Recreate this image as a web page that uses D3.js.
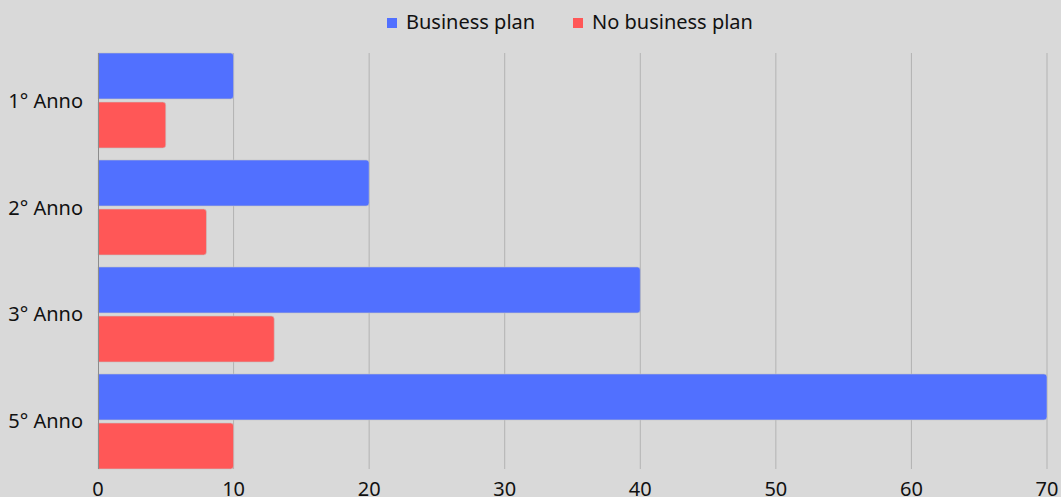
<!DOCTYPE html>
<html>
<head>
<meta charset="utf-8">
<script src="https://cdn.jsdelivr.net/npm/d3@7"></script>
<style>
  html, body { margin: 0; padding: 0; background: #d9d9d9; }
  svg { display: block; font-family: "Noto Sans", "Open Sans", sans-serif; }
</style>
</head>
<body>
<svg id="svg" width="1061" height="497"></svg>
<script>
// dati del grafico
const categories = ["1° Anno", "2° Anno", "3° Anno", "5° Anno"];
const seriesNames = ["Business plan", "No business plan"];
const businessPlan = [10, 20, 40, 70];
const noBusinessPlan = [5, 8, 13, 10];
const xTicks = [0, 10, 20, 30, 40, 50, 60, 70];
const colors = ["#5170ff", "#ff5757"];

const svg = d3.select("#svg");
const width = 1061, height = 497;
const margin = { top: 53, right: 14, bottom: 28, left: 98 };
const fontSize = 20;

svg.append("rect").attr("width", width).attr("height", height).attr("fill", "#d9d9d9");

const x = d3.scaleLinear().domain([0, 70]).range([margin.left, width - margin.right]);
const y = d3.scaleBand().domain(categories).range([margin.top, height - margin.bottom])
  .paddingInner(0.112).paddingOuter(0);
const ySub = d3.scaleBand().domain(seriesNames).range([0, y.bandwidth()]).paddingInner(0.063);

const rows = categories.map((c, i) => ({ cat: c, values: [businessPlan[i], noBusinessPlan[i]] }));

// griglia verticale
svg.append("g")
  .selectAll("line")
  .data(xTicks.slice(1))
  .join("line")
  .attr("x1", d => x(d)).attr("x2", d => x(d))
  .attr("y1", margin.top).attr("y2", height - margin.bottom)
  .attr("stroke", "#b3b3b3").attr("stroke-width", 1);

// barre (angoli arrotondati solo a destra)
function barPath(x0, y0, w, h, r) {
  r = Math.min(r, w, h / 2);
  return `M${x0},${y0}H${x0 + w - r}Q${x0 + w},${y0} ${x0 + w},${y0 + r}` +
    `V${y0 + h - r}Q${x0 + w},${y0 + h} ${x0 + w - r},${y0 + h}H${x0}Z`;
}

const groups = svg.append("g").selectAll("g")
  .data(rows)
  .join("g")
  .attr("transform", d => `translate(0,${y(d.cat)})`);

groups.selectAll("path")
  .data(d => d.values.map((v, j) => ({ name: seriesNames[j], v, j })))
  .join("path")
  .attr("d", d => barPath(x(0), ySub(d.name), x(d.v) - x(0), ySub.bandwidth(), 3))
  .attr("fill", d => colors[d.j])
  .attr("stroke", "#c4c4c4")
  .attr("stroke-width", 0.6);

// asse sinistro
svg.append("line")
  .attr("x1", x(0) + 0.5).attr("x2", x(0) + 0.5)
  .attr("y1", margin.top).attr("y2", height - margin.bottom)
  .attr("stroke", "#8c8c8c").attr("stroke-width", 1);

// etichette categorie
svg.append("g").selectAll("text")
  .data(categories)
  .join("text")
  .attr("x", 83)
  .attr("y", d => y(d) + y.bandwidth() / 2)
  .attr("dy", "0.35em")
  .attr("text-anchor", "end")
  .attr("font-size", fontSize)
  .attr("fill", "#111")
  .text(d => d);

// etichette asse x
svg.append("g").selectAll("text")
  .data(xTicks)
  .join("text")
  .attr("x", d => x(d))
  .attr("y", 496)
  .attr("text-anchor", "middle")
  .attr("font-size", fontSize)
  .attr("fill", "#111")
  .text(d => d);

// legenda
const legend = [{ name: seriesNames[0], x: 387, tx: 406 }, { name: seriesNames[1], x: 573, tx: 592 }];
const lg = svg.append("g");
legend.forEach((l, i) => {
  lg.append("rect").attr("x", l.x).attr("y", 18).attr("width", 10).attr("height", 10).attr("fill", colors[i]);
  lg.append("text").attr("x", l.tx).attr("y", 22).attr("dy", "0.35em")
    .attr("font-size", fontSize).attr("fill", "#111").text(l.name);
});
</script>
</body>
</html>
